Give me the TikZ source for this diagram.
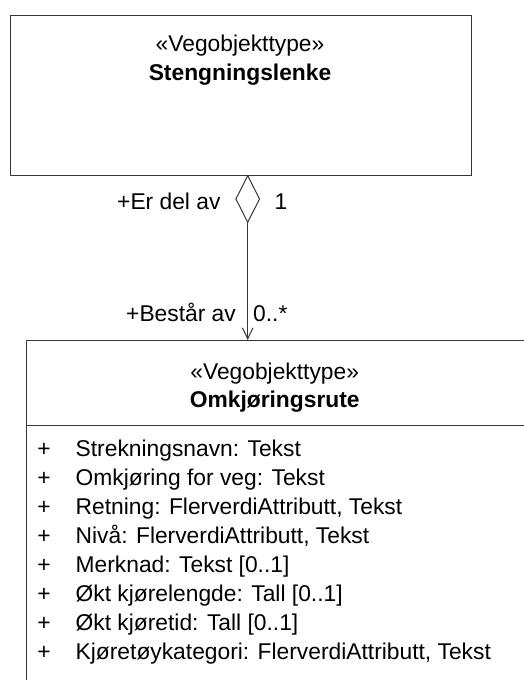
\documentclass[tikz,border=0pt]{standalone}
\usepackage{fontspec}
\setmainfont{Liberation Sans}
\usetikzlibrary{shapes.geometric,arrows.meta}
\begin{document}
\begin{tikzpicture}[x=1pt,y=-1pt,
  umlbox/.style={draw=black!78,line width=1pt,rectangle,inner sep=0pt},
  txt/.style={inner sep=0pt,font=\fontsize{22.8}{29}\selectfont,text=black},
  btxt/.style={inner sep=0pt,font=\fontsize{22.8}{29}\selectfont\bfseries,text=black},
  conn/.style={draw=black!78,line width=1pt}]
\useasboundingbox (0,0) rectangle (524,680);
% top class
\node[umlbox,minimum width=461pt,minimum height=160.5pt,anchor=north west] (stl) at (9.5,14.5) {};
\node[txt,anchor=base] (stlster) at (240,51) {«Vegobjekttype»};
\node[btxt,anchor=base] (stlname) at (240,80) {Stengningslenke};
% bottom class
\node[umlbox,minimum width=500pt,minimum height=360pt,anchor=north west] (omk) at (26,340) {};
\draw[conn] (omk.west |- 0,425) -- (omk.east |- 0,425);
\node[txt,anchor=base] (omkster) at (274.7,379.5) {«Vegobjekttype»};
\node[btxt,anchor=base] (omkname) at (274.7,407.7) {Omkjøringsrute};
% attributes
\foreach \i/\t in {0/{Strekningsnavn: Tekst},1/{Omkjøring for veg: Tekst},2/{Retning: FlerverdiAttributt, Tekst},3/{Nivå: FlerverdiAttributt, Tekst},4/{Merknad: Tekst [0..1]},5/{Økt kjørelengde: Tall [0..1]},6/{Økt kjøretid: Tall [0..1]},7/{Kjøretøykategori: FlerverdiAttributt, Tekst}}{
  \node[txt,anchor=base] (plus\i) at (44,456+29.1*\i) {+};
  \node[txt,anchor=base west] (attr\i) at (75.5,456+29.1*\i) {\t};
}
% aggregation
\node[diamond,draw=black!78,line width=1pt,fill=white,minimum width=24pt,minimum height=47pt,inner sep=0pt,anchor=north] (dia) at (247.7,175) {};
\draw[conn,-{Straight Barb[length=11pt,width=10.5pt,line width=1pt]}] (dia.south) -- (dia.south |- omk.north);
\node[txt,anchor=base west] (role1) at (117,209.3) {+Er del av};
\node[txt,anchor=base west] (mult1) at (274.5,209.3) {1};
\node[txt,anchor=base west] (role2) at (126,321.7) {+Består av};
\node[txt,anchor=base west] (mult2) at (253,321.7) {0..*};
\end{tikzpicture}
\end{document}
